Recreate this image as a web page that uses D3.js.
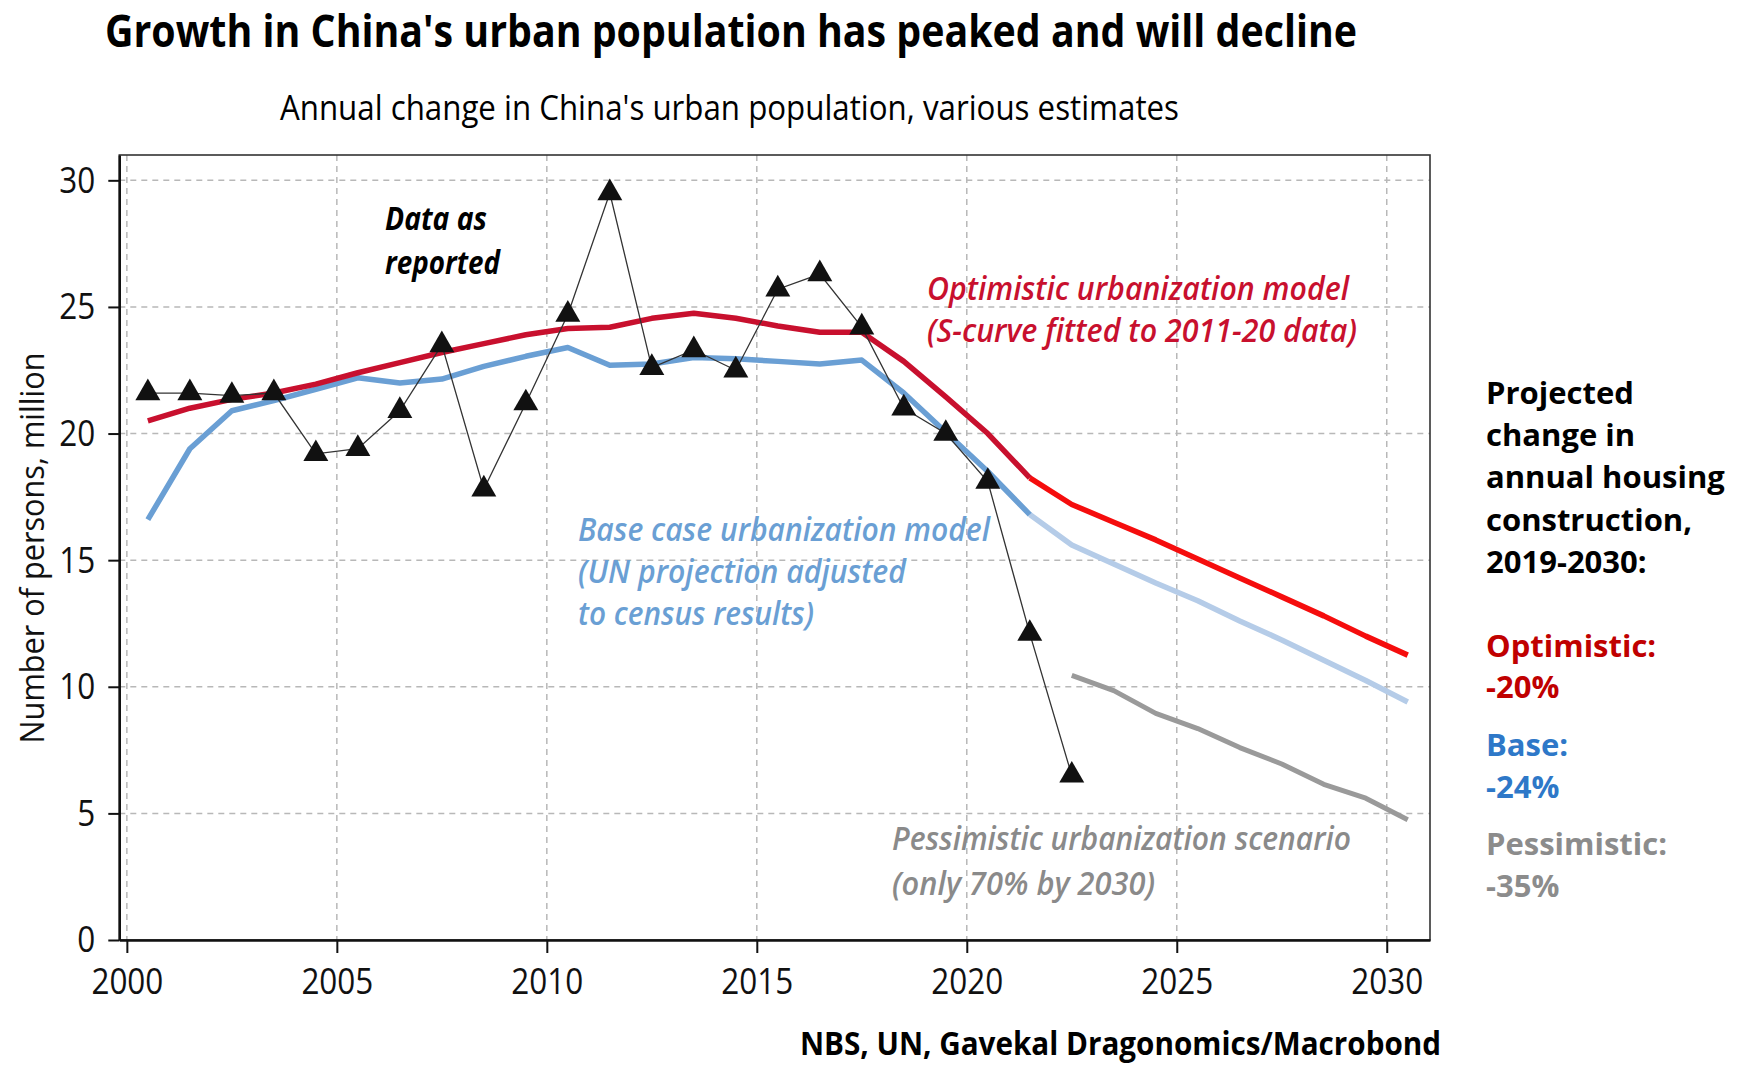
<!DOCTYPE html>
<html>
<head>
<meta charset="utf-8">
<script src="https://cdn.jsdelivr.net/npm/d3@7"></script>
<style>
  body { margin: 0; background: #ffffff; }
  svg { display: block; }
</style>
</head>
<body>
<svg id="chart" width="1741" height="1065"></svg>
<script>
// Annual change in China's urban population (million persons), plotted at mid-year
const modelYears = [2000, 2001, 2002, 2003, 2004, 2005, 2006, 2007, 2008, 2009,
                    2010, 2011, 2012, 2013, 2014, 2015, 2016, 2017, 2018, 2019,
                    2020, 2021, 2022, 2023, 2024, 2025, 2026, 2027, 2028, 2029, 2030];
const reportedYears = [2000, 2001, 2002, 2003, 2004, 2005, 2006, 2007, 2008, 2009,
                       2010, 2011, 2012, 2013, 2014, 2015, 2016, 2017, 2018, 2019,
                       2020, 2021, 2022];
const reported = [21.6, 21.6, 21.5, 21.6, 19.2, 19.4, 20.9, 23.5, 17.8, 21.2,
                  24.7, 29.5, 22.6, 23.3, 22.5, 25.7, 26.3, 24.2, 21.0, 20.0,
                  18.1, 12.1, 6.5];
const optimistic = [20.5, 21.0, 21.35, 21.6, 21.95, 22.4, 22.8, 23.2, 23.55, 23.9,
                    24.15, 24.2, 24.55, 24.75, 24.55, 24.25, 24.0, 24.0, 22.85, 21.45,
                    20.0, 18.25, 17.2, 16.5, 15.8, 15.05, 14.3, 13.55, 12.8, 12.0, 11.25];
const baseCase = [16.6, 19.4, 20.9, 21.3, 21.75, 22.2, 22.0, 22.15, 22.65, 23.05,
                  23.4, 22.7, 22.75, 23.0, 22.95, 22.85, 22.75, 22.9, 21.6, 20.05,
                  18.5, 16.8, 15.6, 14.85, 14.1, 13.4, 12.6, 11.85, 11.05, 10.25, 9.4];
const pessimisticYears = [2022, 2023, 2024, 2025, 2026, 2027, 2028, 2029, 2030];
const pessimistic = [10.45, 9.85, 8.95, 8.35, 7.6, 6.95, 6.15, 5.6, 4.75];
const lastObservedYear = 2021;

const xTicks = [2000, 2005, 2010, 2015, 2020, 2025, 2030];
const yTicks = [0, 5, 10, 15, 20, 25, 30];

const titleText = "Growth in China's urban population has peaked and will decline";
const subtitleText = "Annual change in China's urban population, various estimates";
const yAxisTitle = "Number of persons, million";
const sourceText = "NBS, UN, Gavekal Dragonomics/Macrobond";
const sideNote = ["Projected", "change in", "annual housing", "construction,", "2019-2030:"];
const scenarioNotes = [
  { name: "Optimistic:", value: "-20%", color: "#c00000" },
  { name: "Base:", value: "-24%", color: "#2e78c8" },
  { name: "Pessimistic:", value: "-35%", color: "#8c8c8c" }
];

const COLORS = {
  optHist: "#c8102e", optProj: "#f50d0d",
  baseHist: "#6a9fd4", baseProj: "#b5cce8",
  pess: "#9a9a9a", reported: "#111111",
  grid: "#b8b8b8"
};
const FONT = "'Open Sans', 'Noto Sans', 'Liberation Sans', sans-serif";

const svg = d3.select("#chart");
const plot = { left: 119.3, right: 1430, top: 155, bottom: 940 };

const x = d3.scaleLinear().domain([1999.82, 2031.03]).range([plot.left, plot.right]);
const y = d3.scaleLinear().domain([0, 31]).range([plot.bottom, plot.top]);
const mid = yr => x(yr + 0.5);

// Squeeze a text element horizontally by a factor, or to a fixed width
function squeeze(sel, factor, width) {
  sel.each(function () {
    const w = width != null ? width : this.getComputedTextLength() * factor;
    d3.select(this).attr("textLength", w).attr("lengthAdjust", "spacingAndGlyphs");
  });
}

function label(g, text, px, py, o) {
  const t = g.append("text")
    .attr("x", px).attr("y", py)
    .attr("font-family", FONT)
    .attr("font-size", o.size)
    .attr("font-weight", o.weight || 400)
    .attr("font-style", o.style || "normal")
    .attr("fill", o.fill || "#000")
    .attr("text-anchor", o.anchor || "start")
    .text(text);
  if (o.width) squeeze(t, null, o.width);
  return t;
}

// Grid
const grid = svg.append("g").attr("stroke", COLORS.grid).attr("stroke-width", 1.5)
  .attr("stroke-dasharray", "6,5");
grid.selectAll("line.v").data(xTicks).join("line")
  .attr("x1", d => x(d)).attr("x2", d => x(d))
  .attr("y1", plot.top).attr("y2", plot.bottom);
grid.selectAll("line.h").data(yTicks.filter(d => d > 0)).join("line")
  .attr("x1", plot.left).attr("x2", plot.right)
  .attr("y1", d => y(d)).attr("y2", d => y(d));

// Frame
svg.append("rect")
  .attr("x", plot.left).attr("y", plot.top)
  .attr("width", plot.right - plot.left).attr("height", plot.bottom - plot.top)
  .attr("fill", "none").attr("stroke", "#333").attr("stroke-width", 1.6);

// Axes
const yAxis = svg.append("g").attr("transform", `translate(${plot.left},0)`)
  .call(d3.axisLeft(y).tickValues(yTicks).tickSize(11).tickSizeOuter(0).tickPadding(13));
const xAxis = svg.append("g").attr("transform", `translate(0,${plot.bottom})`)
  .call(d3.axisBottom(x).tickValues(xTicks).tickFormat(d3.format("d"))
    .tickSize(13).tickSizeOuter(0).tickPadding(15));
[yAxis, xAxis].forEach(a => {
  a.select(".domain").attr("stroke", "#111").attr("stroke-width", 2.4);
  a.selectAll(".tick line").attr("stroke", "#111").attr("stroke-width", 2);
  a.selectAll(".tick text").attr("font-family", FONT).attr("font-size", 37)
    .attr("fill", "#111");
});
squeeze(yAxis.selectAll(".tick text"), 0.85);
squeeze(xAxis.selectAll(".tick text"), 0.85);

// Series lines
const line = d3.line().x(d => mid(d.year)).y(d => y(d.v));
const toPts = (yrs, vals) => yrs.map((yr, i) => ({ year: yr, v: vals[i] }));
const optPts = toPts(modelYears, optimistic);
const basePts = toPts(modelYears, baseCase);
const hist = pts => pts.filter(p => p.year <= lastObservedYear);
const proj = pts => pts.filter(p => p.year >= lastObservedYear);

const lines = svg.append("g").attr("fill", "none")
  .attr("stroke-linejoin", "round").attr("stroke-width", 5.5);
lines.append("path").attr("d", line(proj(basePts))).attr("stroke", COLORS.baseProj);
lines.append("path").attr("d", line(hist(basePts))).attr("stroke", COLORS.baseHist);
lines.append("path").attr("d", line(proj(optPts))).attr("stroke", COLORS.optProj);
lines.append("path").attr("d", line(hist(optPts))).attr("stroke", COLORS.optHist);
lines.append("path").attr("d", line(toPts(pessimisticYears, pessimistic)))
  .attr("stroke", COLORS.pess).attr("stroke-width", 5);

// Reported data
const repPts = toPts(reportedYears, reported);
svg.append("path").attr("d", line(repPts)).attr("fill", "none")
  .attr("stroke", "#333").attr("stroke-width", 1.3);
svg.append("g").selectAll("path").data(repPts).join("path")
  .attr("transform", d => `translate(${mid(d.year)},${y(d.v)})`)
  .attr("d", d3.symbol().type(d3.symbolTriangle).size(270))
  .attr("fill", COLORS.reported);

// Titles
const txt = svg.append("g");
label(txt, titleText, 105, 46.5, { size: 44, weight: 700, width: 1252 });
label(txt, subtitleText, 280, 120, { size: 34, weight: 400, width: 899 });
label(txt, sourceText, 800, 1055, { size: 32, weight: 700, width: 641 });

// Y axis title
txt.append("text")
  .attr("transform", "translate(44,548) rotate(-90)")
  .attr("font-family", FONT).attr("font-size", 33).attr("fill", "#111")
  .attr("text-anchor", "middle").text(yAxisTitle)
  .call(s => squeeze(s, null, 391));

// In-plot annotations
const it = { style: "italic", size: 33 };
label(txt, "Data as", 385, 230, { ...it, weight: 700, width: 102 });
label(txt, "reported", 385, 274, { ...it, weight: 700, width: 115 });
label(txt, "Optimistic urbanization model", 927, 300, { ...it, weight: 600, fill: COLORS.optHist, width: 422 });
label(txt, "(S-curve fitted to 2011-20 data)", 927, 342, { ...it, weight: 600, fill: COLORS.optHist, width: 430 });
label(txt, "Base case urbanization model", 578, 541, { ...it, weight: 600, fill: COLORS.baseHist, width: 412 });
label(txt, "(UN projection adjusted", 578, 583, { ...it, weight: 600, fill: COLORS.baseHist, width: 328 });
label(txt, "to census results)", 578, 625, { ...it, weight: 600, fill: COLORS.baseHist, width: 236 });
label(txt, "Pessimistic urbanization scenario", 892, 850, { ...it, weight: 600, fill: "#8a8a8a", width: 459 });
label(txt, "(only 70% by 2030)", 892, 895, { ...it, weight: 600, fill: "#8a8a8a", width: 263 });

// Side note on housing construction
const side = svg.append("g");
sideNote.forEach((s, i) => {
  label(side, s, 1486, 404 + i * 42.2, { size: 31, weight: 700, fill: "#000" });
});
const scenY = [657, 698, 756, 798, 855, 897];
scenarioNotes.forEach((s, i) => {
  label(side, s.name, 1486, scenY[i * 2], { size: 31, weight: 700, fill: s.color });
  label(side, s.value, 1486, scenY[i * 2 + 1], { size: 31, weight: 700, fill: s.color });
});
</script>
</body>
</html>
